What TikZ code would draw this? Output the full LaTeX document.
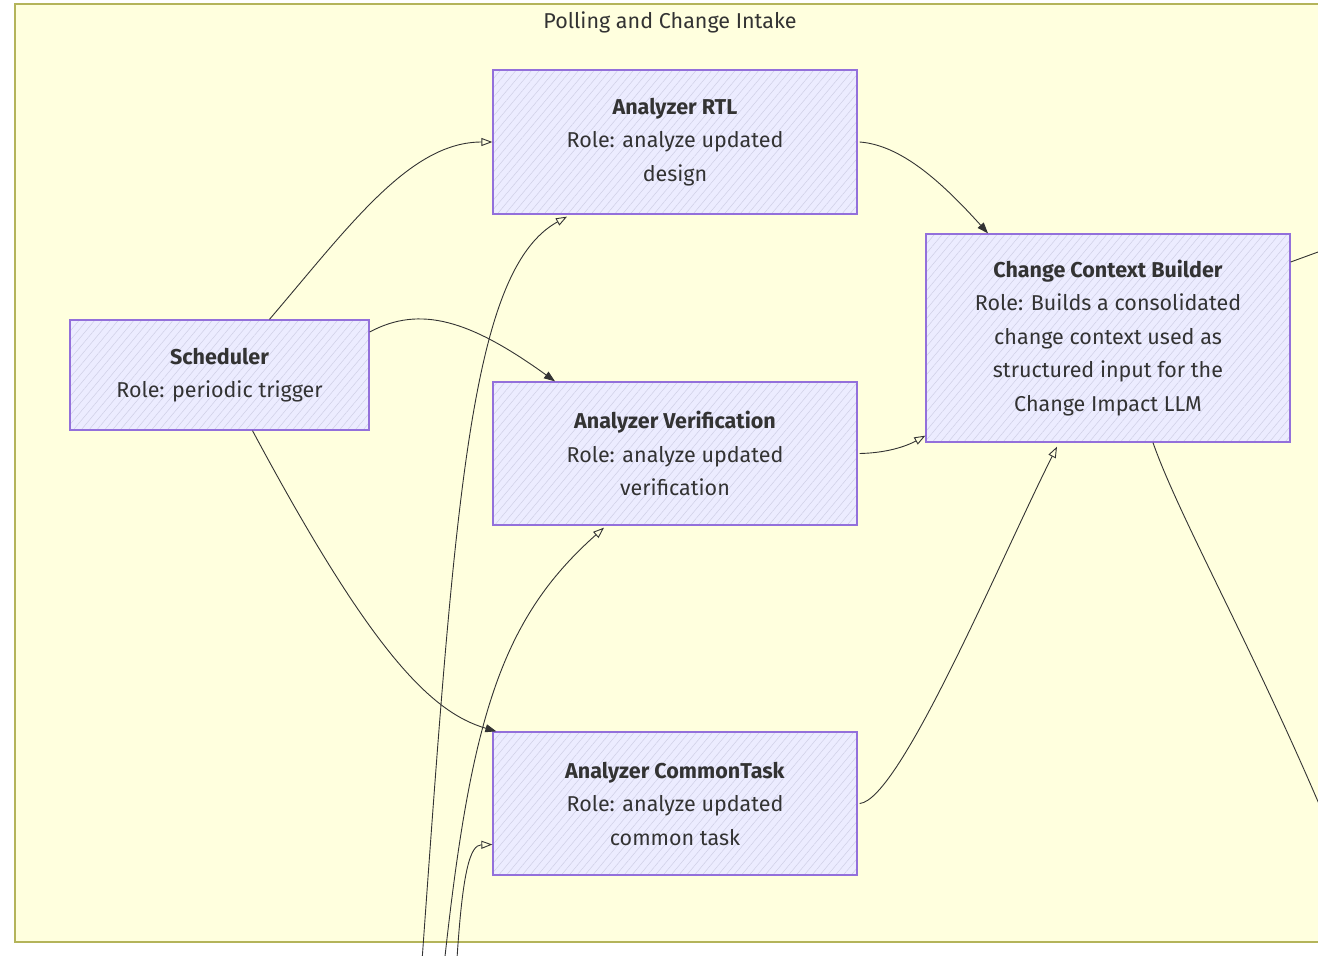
\documentclass[tikz,border=0pt]{standalone}
\usepackage{fontspec}
\setmainfont{Fira Sans}
\usetikzlibrary{arrows.meta,patterns.meta}
\definecolor{clusterfill}{HTML}{FFFFDE}
\definecolor{clusterline}{HTML}{B4B45A}
\definecolor{nodefill}{HTML}{ECECFF}
\definecolor{nodeline}{HTML}{9370DB}
\definecolor{hatch}{HTML}{CFCFE6}
\definecolor{ink}{HTML}{333333}
\tikzset{
  box/.style={draw=nodeline, line width=1.3pt, text=ink,
    preaction={fill=nodefill},
    preaction={pattern={Lines[angle=50,distance=6pt,line width=0.5pt]}, pattern color=hatch},
    align=center, inner sep=0pt, minimum width=364pt, minimum height=143pt,
    font=\fontsize{21.5}{33.5}\selectfont},
  conn/.style={draw=ink, line width=0.9pt},
  openarr/.style={-{Triangle[open,length=11pt,width=8pt,line width=0.9pt]}},
  fillarr/.style={-{Triangle[length=11pt,width=8pt]}},
}
\begin{document}
\begin{tikzpicture}[x=1pt,y=-1pt]
\useasboundingbox (0,0) rectangle (1318,956);
\clip (0,0) rectangle (1318,956);
\fill[white] (0,0) rectangle (1318,956);
\draw[clusterline, fill=clusterfill, line width=1.3pt] (15,4) rectangle (1340,942);
\node[text=ink, font=\fontsize{21.5}{24}\selectfont] (title) at (670,22) {Polling and Change Intake};

\node[box, minimum width=299pt, minimum height=110pt] (sched) at (219.5,375)
  {\textbf{Scheduler}\\Role: periodic trigger};
\node[box, minimum height=144pt] (rtl) at (675,142)
  {\textbf{Analyzer RTL}\\Role: analyze updated\\design};
\node[box] (ver) at (675,453.5)
  {\textbf{Analyzer Verification}\\Role: analyze updated\\verification};
\node[box] (ct) at (675,803.5)
  {\textbf{Analyzer CommonTask}\\Role: analyze updated\\common task};
\node[box, minimum height=208pt] (ccb) at (1108,338)
  {\textbf{Change Context Builder}\\Role: Builds a consolidated\\change context used as\\structured input for the\\Change Impact LLM};

\coordinate (outA) at (1340,244);
\coordinate (outB) at (1335,842);
\coordinate (inA) at (421,975);
\coordinate (inB) at (443,975);
\coordinate (inC) at (456,975);

% Scheduler edges
\draw[conn, openarr] ([xshift=50pt]sched.north) .. controls (350,225) and (410,142) .. (rtl.west);
\draw[conn, fillarr] ([yshift=43pt]sched.east) .. controls (420,305) and (470,320) .. ([xshift=-120pt]ver.north);
\draw[conn, fillarr] ([xshift=33pt]sched.south) .. controls (370,650) and (430,712) .. ([xshift=4pt]ct.north west);

% Analyzers to builder
\draw[conn, fillarr] ([xshift=2pt]rtl.east) .. controls (900,145) and (940,180) .. ([xshift=-120pt]ccb.north);
\draw[conn, openarr] ([xshift=2pt]ver.east) .. controls (885,453) and (905,447) .. ([yshift=7pt]ccb.south west);
\draw[conn, openarr] ([xshift=2pt]ct.east) .. controls (900,800) and (1000,560) .. ([xshift=-51pt,yshift=-4pt]ccb.south);

% Builder outgoing
\draw[conn] ([yshift=76pt]ccb.east) -- (outA);
\draw[conn] ([xshift=45pt]ccb.south) .. controls (1180,520) and (1260,660) .. (outB);

% Incoming from below
\draw[conn, openarr] (inA) .. controls (455,500) and (470,270) .. ([xshift=-108pt,yshift=-2pt]rtl.south);
\draw[conn, openarr] (inB) .. controls (470,720) and (500,620) .. ([xshift=-71pt,yshift=-2pt]ver.south);
\draw[conn, openarr] (inC) .. controls (462,870) and (470,845) .. ([yshift=-41pt]ct.west);
\end{tikzpicture}
\end{document}
